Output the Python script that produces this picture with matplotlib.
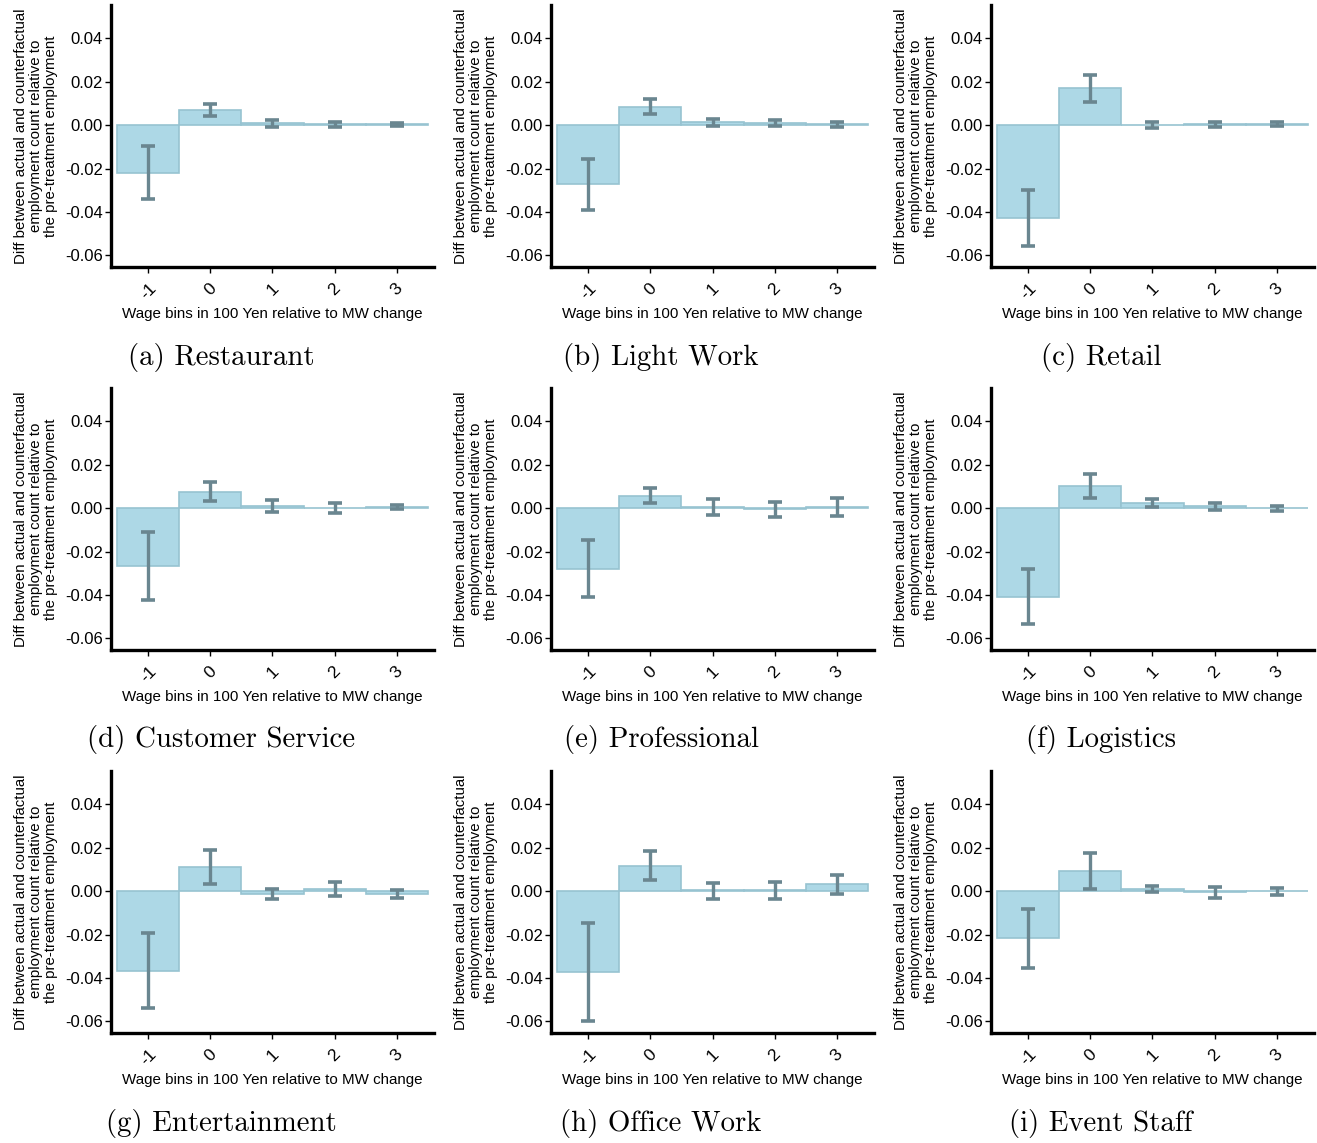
import numpy as np
import matplotlib
matplotlib.use("Agg")
import matplotlib.pyplot as plt

# wage bins relative to the MW change (in 100 Yen)
bins = [-1, 0, 1, 2, 3]
bin_labels = ["-1", "0", "1", "2", "3"]

captions = ["(a) Restaurant", "(b) Light Work", "(c) Retail",
            "(d) Customer Service", "(e) Professional", "(f) Logistics",
            "(g) Entertainment", "(h) Office Work", "(i) Event Staff"]

# point estimates per panel (rows a..i, columns = bins)
estimates = [
    [-0.0221, 0.0070, 0.0009, 0.0005, 0.0003],
    [-0.0273, 0.0085, 0.0012, 0.0008, 0.0003],
    [-0.0426, 0.0169, -0.0002, 0.0003, 0.0003],
    [-0.0268, 0.0075, 0.0009, 0.0002, 0.0004],
    [-0.0279, 0.0057, 0.0005, -0.0004, 0.0005],
    [-0.0409, 0.0100, 0.0021, 0.0009, -0.0002],
    [-0.0368, 0.0110, -0.0015, 0.0009, -0.0012],
    [-0.0372, 0.0116, 0.0004, 0.0005, 0.0031],
    [-0.0218, 0.0092, 0.0011, -0.0005, 0.0001],
]

# confidence intervals
ci_lower = [
    [-0.0342, 0.0043, -0.0007, -0.0008, -0.0003],
    [-0.0391, 0.0052, -0.0005, -0.0005, -0.0010],
    [-0.0556, 0.0107, -0.0012, -0.0008, -0.0006],
    [-0.0425, 0.0034, -0.0020, -0.0023, -0.0006],
    [-0.0411, 0.0023, -0.0034, -0.0041, -0.0035],
    [-0.0535, 0.0044, 0.0003, -0.0009, -0.0012],
    [-0.0538, 0.0034, -0.0035, -0.0021, -0.0034],
    [-0.0599, 0.0049, -0.0035, -0.0035, -0.0014],
    [-0.0354, 0.0009, -0.0006, -0.0031, -0.0020],
]
ci_upper = [
    [-0.0095, 0.0097, 0.0022, 0.0015, 0.0011],
    [-0.0155, 0.0118, 0.0026, 0.0022, 0.0015],
    [-0.0297, 0.0228, 0.0012, 0.0015, 0.0012],
    [-0.0110, 0.0120, 0.0037, 0.0024, 0.0012],
    [-0.0146, 0.0090, 0.0041, 0.0028, 0.0048],
    [-0.0279, 0.0156, 0.0041, 0.0021, 0.0008],
    [-0.0195, 0.0187, 0.0009, 0.0041, 0.0006],
    [-0.0146, 0.0185, 0.0038, 0.0043, 0.0074],
    [-0.0081, 0.0175, 0.0025, 0.0020, 0.0015],
]

yticks = [0.04, 0.02, 0.00, -0.02, -0.04, -0.06]

plt.rcParams["font.family"] = ["Liberation Sans", "DejaVu Sans"]
plt.rcParams["axes.unicode_minus"] = False

W, H = 1317, 1143
fig = plt.figure(figsize=(W / 100, H / 100), dpi=100)

col_left = [111, 551, 991]
row_top = [5, 388, 771]
ax_w, ax_h = 323, 262

bar_fill = "#add8e6"
bar_edge = "#97c3d1"
err_col = "#6a8690"

for i in range(9):
    r, c = divmod(i, 3)
    left = col_left[c] / W
    bottom = 1 - (row_top[r] + ax_h) / H
    ax = fig.add_axes([left, bottom, ax_w / W, ax_h / H])

    est = np.array(estimates[i])
    lo = np.array(ci_lower[i])
    hi = np.array(ci_upper[i])

    ax.bar(bins, est, width=1.0, color=bar_fill, edgecolor=bar_edge, linewidth=1.2, zorder=2)
    ax.errorbar(bins, est, yerr=[est - lo, hi - est], fmt="none", ecolor=err_col,
                elinewidth=2.4, capsize=5, capthick=2.6, zorder=3)

    ax.set_xlim(-1.6, 3.6)
    ax.set_ylim(-0.0653, 0.0552)
    ax.set_yticks(yticks)
    ax.set_yticklabels([f"{v:.2f}" for v in yticks], fontsize=12)
    ax.set_xticks(bins)
    ax.set_xticklabels(bin_labels, fontsize=12.5, rotation=45, ha="center", va="top")

    for s in ["top", "right"]:
        ax.spines[s].set_visible(False)
    for s in ["left", "bottom"]:
        ax.spines[s].set_linewidth(2.4)
    ax.tick_params(axis="both", length=4, width=1, pad=2)
    ax.tick_params(axis="x", pad=6)

    ax.set_ylabel("Diff between actual and counterfactual\nemployment count relative to\nthe pre-treatment employment",
                  fontsize=10.8, linespacing=1.06)
    ax.yaxis.set_label_coords(-0.165, 0.5)
    ax.set_xlabel("Wage bins in 100 Yen relative to MW change", fontsize=10.9)
    ax.xaxis.set_label_coords(0.5, -0.152)
    ax.xaxis.label.set_va("top")

    fig.text((221 + 440 * c) / W, 1 - (357 + 383 * r) / H, captions[i],
             family="cmr10", fontsize=20.8, ha="center", va="center")

fig.savefig("out.png", dpi=100)
